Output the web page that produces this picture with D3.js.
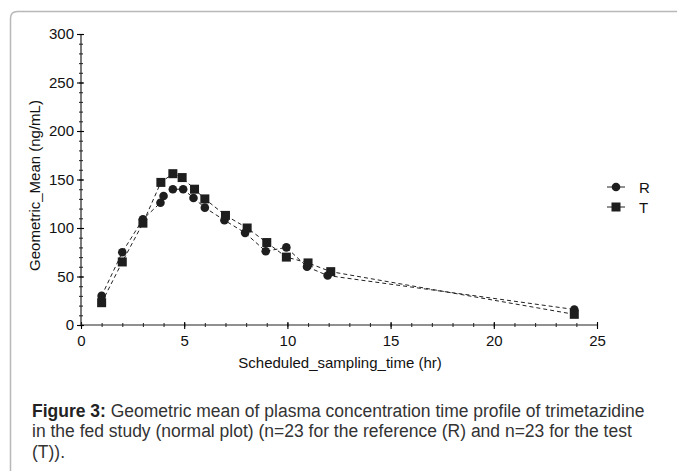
<!DOCTYPE html>
<html>
<head>
<meta charset="utf-8">
<script src="https://cdn.jsdelivr.net/npm/d3@7"></script>
<style>
  body { margin: 0; background: #fff; }
  svg { display: block; }
</style>
</head>
<body>
<div id="chart"></div>
<script>
// data
const seriesNames = ['R', 'T'];
const timesR = [1, 2, 3, 3.85, 4, 4.45, 4.95, 5.45, 6, 6.95, 7.95, 8.95, 9.95, 10.95, 11.95, 23.9];
const valuesR = [30, 75, 109, 126, 133, 140, 140, 131, 121, 108, 95, 76, 80, 60, 51, 16];
const timesT = [1, 2, 3, 3.87, 4.45, 4.9, 5.5, 6, 7, 8.05, 9, 9.95, 11, 12.1, 23.9];
const valuesT = [23, 65, 105, 147, 156, 152, 140, 130, 113, 100, 85, 70, 64, 55, 11];
const xTicks = [0, 5, 10, 15, 20, 25];
const yTicks = [0, 50, 100, 150, 200, 250, 300];
const captionLines = [
  ['Figure 3:', ' Geometric mean of plasma concentration time profile of trimetazidine'],
  ['', 'in the fed study (normal plot) (n=23 for the reference (R) and n=23 for the test'],
  ['', '(T)).']
];

const FONT = 'Arial, "Liberation Sans", sans-serif';
const W = 677, H = 471;
const margin = {top: 34, right: 80, bottom: 146, left: 81},
    width = 597 - margin.left,
    height = 325 - margin.top;

const svg = d3.select('#chart').append('svg')
    .attr('width', W)
    .attr('height', H);

// panel frame (top + left edge, rounded corner)
svg.append('path')
    .attr('d', 'M10.5,' + H + ' L10.5,18.5 Q10.5,11.5 17.5,11.5 L' + W + ',11.5')
    .attr('fill', 'none')
    .attr('stroke', '#b8b8b8')
    .attr('stroke-width', 1.5);

const g = svg.append('g')
    .attr('transform', 'translate(' + margin.left + ',' + margin.top + ')');

const x = d3.scaleLinear().domain([0, 25]).range([0, width]);
const y = d3.scaleLinear().domain([0, 300]).range([height, 0]);

// minor ticks
g.append('g')
    .attr('transform', 'translate(0,' + height + ')')
    .call(d3.axisBottom(x).tickValues(d3.range(0, 26, 1)).tickSize(2).tickFormat(''))
    .call(a => a.select('.domain').remove())
    .selectAll('line').attr('y1', -2).attr('stroke', '#333');
g.append('g')
    .call(d3.axisLeft(y).tickValues(d3.range(0, 301, 10)).tickSize(2).tickFormat(''))
    .call(a => a.select('.domain').remove())
    .selectAll('line').attr('x1', 2).attr('stroke', '#333');

// major axes
const xAxis = g.append('g')
    .attr('transform', 'translate(0,' + height + ')')
    .call(d3.axisBottom(x).tickValues(xTicks).tickSize(4).tickPadding(6).tickSizeOuter(0));
xAxis.selectAll('.tick line').attr('y1', -3);
xAxis.select('.domain').attr('d', 'M0,0H' + width);

const yAxis = g.append('g')
    .call(d3.axisLeft(y).tickValues(yTicks).tickSize(4).tickPadding(3).tickSizeOuter(0));
yAxis.selectAll('.tick line').attr('x1', 3);
yAxis.select('.domain').attr('d', 'M0,' + height + 'V0');
g.selectAll('.domain').attr('stroke', '#222').attr('stroke-width', 1.2);
g.selectAll('.tick line').attr('stroke-width', 1.1);
g.selectAll('.tick text')
    .style('font-family', FONT)
    .style('font-size', '15px')
    .attr('fill', '#111');

// axis titles
g.append('text')
    .attr('x', width / 2 + 1)
    .attr('y', height + 43)
    .attr('text-anchor', 'middle')
    .style('font-family', FONT)
    .style('font-size', '15px')
    .attr('fill', '#111')
    .text('Scheduled_sampling_time (hr)');

g.append('text')
    .attr('transform', 'translate(-41,' + (height / 2 + 6) + ') rotate(-90)')
    .attr('text-anchor', 'middle')
    .style('font-family', FONT)
    .style('font-size', '15px')
    .attr('fill', '#111')
    .text('Geometric_Mean (ng/mL)');

// series
const dataR = timesR.map((t, i) => [t, valuesR[i]]);
const dataT = timesT.map((t, i) => [t, valuesT[i]]);
const line = d3.line().x(d => x(d[0])).y(d => y(d[1]));

[dataR, dataT].forEach(data => {
  g.append('path')
      .datum(data)
      .attr('d', line)
      .attr('fill', 'none')
      .attr('stroke', '#222')
      .attr('stroke-width', 1)
      .attr('stroke-dasharray', '4,3');
});

g.selectAll('.pt-r')
    .data(dataR)
  .enter().append('circle')
    .attr('class', 'pt-r')
    .attr('cx', d => x(d[0]))
    .attr('cy', d => y(d[1]))
    .attr('r', 4.3)
    .attr('fill', '#1e1e1e');

const sq = 9;
g.selectAll('.pt-t')
    .data(dataT)
  .enter().append('rect')
    .attr('class', 'pt-t')
    .attr('x', d => x(d[0]) - sq / 2)
    .attr('y', d => y(d[1]) - sq / 2)
    .attr('width', sq)
    .attr('height', sq)
    .attr('fill', '#1e1e1e');

// legend
const legend = svg.append('g').attr('transform', 'translate(607,187)');
seriesNames.forEach((name, i) => {
  const row = legend.append('g').attr('transform', 'translate(0,' + (i * 20) + ')');
  row.append('line').attr('x1', 0).attr('x2', 18).attr('stroke', '#222').attr('stroke-width', 1);
  if (i === 0) {
    row.append('circle').attr('cx', 9).attr('r', 4.3).attr('fill', '#1e1e1e');
  } else {
    row.append('rect').attr('x', 9 - sq / 2).attr('y', -sq / 2).attr('width', sq).attr('height', sq).attr('fill', '#1e1e1e');
  }
  row.append('text')
      .attr('x', 32)
      .attr('y', 5.5)
      .style('font-family', FONT)
      .style('font-size', '15px')
      .attr('fill', '#111')
      .text(name);
});

// caption (condensed face imitated by squeezing a regular one)
const cap = svg.append('g');
const capText = cap.append('text')
    .style('font-family', FONT)
    .style('font-size', '19px')
    .attr('fill', '#333');
captionLines.forEach((ln, i) => {
  const t = capText.append('tspan').attr('x', 0).attr('y', 417 + i * 20.5);
  if (ln[0]) t.append('tspan').attr('font-weight', 'bold').attr('fill', '#222').text(ln[0]);
  t.append('tspan').text(ln[1]);
});
const firstW = capText.select('tspan').node().getComputedTextLength();
const sx = 613 / firstW;
cap.attr('transform', 'translate(32,0) scale(' + sx + ',1)');
</script>
</body>
</html>
